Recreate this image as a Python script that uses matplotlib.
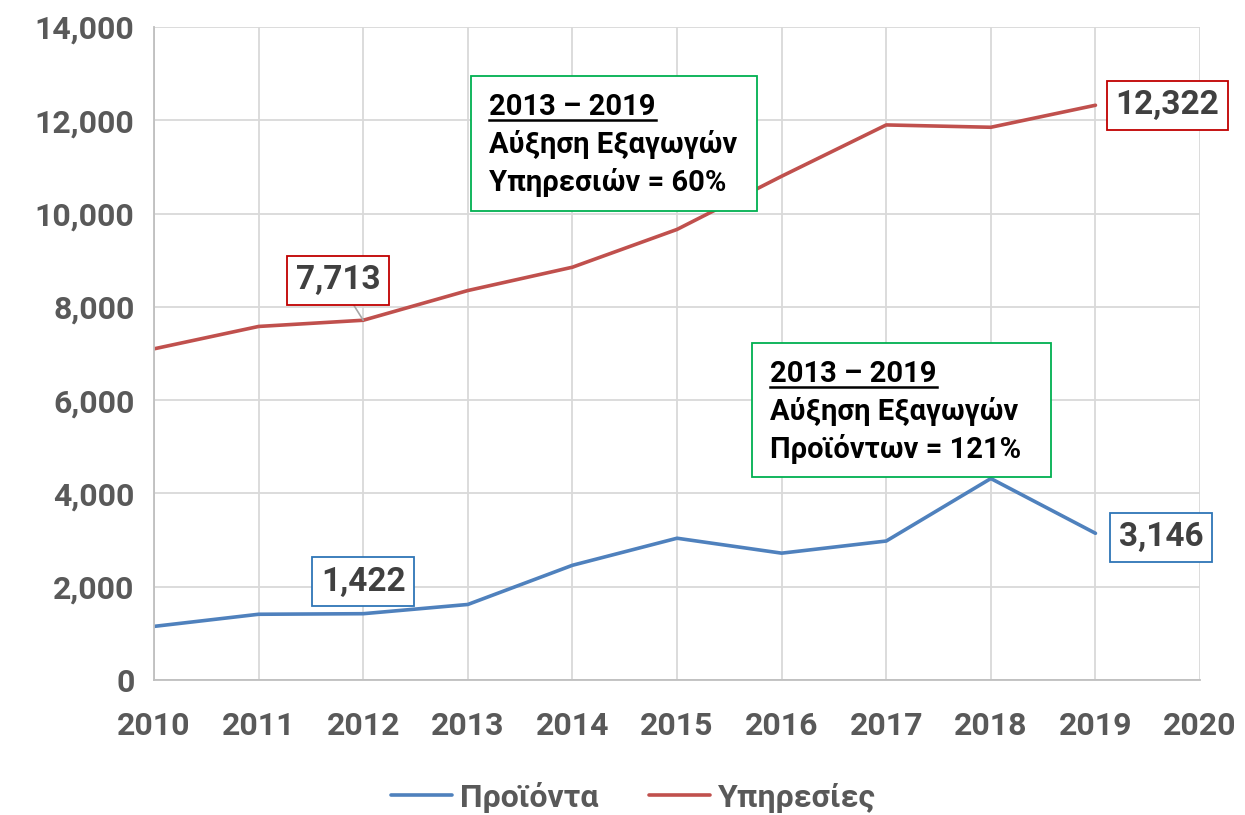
import matplotlib
matplotlib.use('Agg')
import matplotlib.pyplot as plt
from matplotlib.patches import Rectangle
from matplotlib.lines import Line2D

plt.rcParams['font.family'] = ['Roboto', 'DejaVu Sans']

# δεδομένα (εκτίμηση από το γράφημα)
years = [2010, 2011, 2012, 2013, 2014, 2015, 2016, 2017, 2018, 2019]
proionta = [1150, 1410, 1422, 1620, 2460, 3040, 2720, 2980, 4320, 3146]
ypiresies = [7100, 7580, 7713, 8350, 8850, 9660, 10800, 11900, 11850, 12322]
series_names = ['Προϊόντα', 'Υπηρεσίες']
y_ticks = [0, 2000, 4000, 6000, 8000, 10000, 12000, 14000]
x_ticks = list(range(2010, 2021))

blue = '#4f81bd'
red = '#c0504d'
grey_txt = '#595959'
label_txt = '#404040'

fig = plt.figure(figsize=(12.45, 8.15), dpi=100)
ax = fig.add_axes([0.1237, 0.1656, 0.8402, 0.8013])

ax.plot(years, proionta, color=blue, lw=2.6, label=series_names[0], solid_capstyle='round')
ax.plot(years, ypiresies, color=red, lw=2.6, label=series_names[1], solid_capstyle='round')

ax.set_xlim(2010, 2020)
ax.set_ylim(0, 14000)
ax.set_xticks(x_ticks)
ax.set_yticks(y_ticks)
ax.set_yticklabels(['{:,}'.format(v) for v in y_ticks])
ax.grid(True, color='#d9d9d9', lw=1.3)
ax.set_axisbelow(True)
for s in ['top', 'right']:
    ax.spines[s].set_visible(False)
for s in ['left', 'bottom']:
    ax.spines[s].set_color('#bfbfbf')
    ax.spines[s].set_linewidth(1.3)
ax.tick_params(length=0, labelsize=23, labelcolor=grey_txt)
ax.tick_params(axis='x', pad=22)
ax.tick_params(axis='y', pad=14)
for t in ax.get_xticklabels() + ax.get_yticklabels():
    t.set_fontweight('bold')


# ετικέτες τιμών με πλαίσιο
def value_label(x, y, dx, dy, edge, leader=False):
    txt = '{:,}'.format(y)
    kw = dict(arrowprops=dict(arrowstyle='-', color='#a6a6a6', lw=1.2, shrinkA=0, shrinkB=0)) if leader else {}
    ax.annotate(txt, xy=(x, y), xytext=(dx, dy), textcoords='offset pixels',
                ha='center', va='center', fontsize=24, fontweight='bold', color=label_txt,
                bbox=dict(boxstyle='square,pad=0.26', fc='white', ec=edge, lw=1.3),
                annotation_clip=False, clip_on=False, **kw)


value_label(2012, ypiresies[2], -25, 40, '#c00000', leader=True)
value_label(2019, ypiresies[9], 72, 0, '#c00000')
value_label(2012, proionta[2], 0, 32, '#2e75b6')
value_label(2019, proionta[9], 66, -4, '#2e75b6')


# πράσινα πλαίσια σχολίων
def note_box(x0, y0, x1, y1, lines):
    ax.add_patch(Rectangle((x0, y0), x1 - x0, y1 - y0, transform=ax.transAxes,
                           fill=True, fc='white', ec='#00b050', lw=1.3, zorder=5))
    h = (y1 - y0)
    texts = []
    for i, ln in enumerate(lines):
        t = ax.text(x0 + 0.0175, y1 - h * (0.23 + 0.28 * i), ln, transform=ax.transAxes,
                    ha='left', va='center', fontsize=21, fontweight='bold', color='black', zorder=6)
        texts.append(t)
    return texts[0]


first1 = note_box(0.303, 0.718, 0.5765, 0.925,
                  ['2013 – 2019', 'Αύξηση Εξαγωγών', 'Υπηρεσιών = 60%'])
first2 = note_box(0.5717, 0.311, 0.8576, 0.516,
                  ['2013 – 2019', 'Αύξηση Εξαγωγών', 'Προϊόντων = 121%'])

# υπογράμμιση της πρώτης γραμμής
fig.canvas.draw()
r = fig.canvas.get_renderer()
for t in [first1, first2]:
    bb = t.get_window_extent(renderer=r)
    inv = fig.transFigure.inverted()
    (xa, ya), (xb, _) = inv.transform([(bb.x0, bb.y0 + 1), (bb.x1, bb.y0)])
    fig.add_artist(Line2D([xa, xb], [ya, ya], color='black', lw=1.8, zorder=7))

leg = fig.legend(loc='center', bbox_to_anchor=(0.509, 0.022), ncol=2, frameon=False,
                 fontsize=23, handlelength=1.9, columnspacing=1.6, handletextpad=0.25,
                 borderaxespad=0, borderpad=0)
for t in leg.get_texts():
    t.set_color(grey_txt)
    t.set_fontweight('bold')

fig.savefig('out.png', dpi=100)
